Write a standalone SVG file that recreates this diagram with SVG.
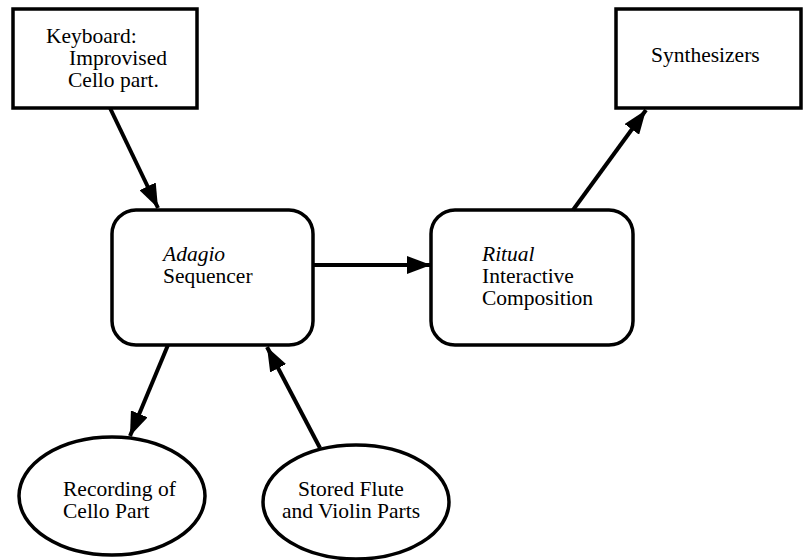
<svg xmlns="http://www.w3.org/2000/svg" width="807" height="560" viewBox="0 0 807 560">
<defs>
<style>
.box{fill:#fff;stroke:#000;stroke-width:3.5}
.t{font-family:'Liberation Serif','Tinos','DejaVu Serif',serif;font-size:21.5px;fill:#000}
.i{font-style:italic}
.c{fill:none;stroke:#000;stroke-width:4}
</style>
<marker id="ah" markerUnits="userSpaceOnUse" markerWidth="26" markerHeight="18" refX="24" refY="9" orient="auto">
<path d="M0,0 L24,9 L0,18 Z" fill="#000"/>
</marker>
</defs>
<rect width="807" height="560" fill="#fff"/>
<g id="keyboard">
<rect class="box" x="13" y="9" width="184" height="99"/>
<text class="t" x="46" y="43">Keyboard:</text>
<text class="t" x="69" y="65">Improvised</text>
<text class="t" x="68" y="87">Cello part.</text>
</g>
<g id="synthesizers">
<rect class="box" x="616" y="9" width="185" height="99"/>
<text class="t" x="651" y="62">Synthesizers</text>
</g>
<g id="adagio">
<rect class="box" x="112" y="210" width="201" height="135" rx="24" ry="24"/>
<text class="t i" x="163" y="261">Adagio</text>
<text class="t" x="163" y="283">Sequencer</text>
</g>
<g id="ritual">
<rect class="box" x="431" y="210" width="202" height="135" rx="24" ry="24"/>
<text class="t i" x="482" y="261">Ritual</text>
<text class="t" x="482" y="283">Interactive</text>
<text class="t" x="482" y="305">Composition</text>
</g>
<g id="recording">
<ellipse class="box" cx="112" cy="496" rx="93" ry="59"/>
<text class="t" x="63" y="496">Recording of</text>
<text class="t" x="63" y="518">Cello Part</text>
</g>
<g id="stored">
<ellipse class="box" cx="356" cy="502" rx="93" ry="57"/>
<text class="t" x="298" y="496">Stored Flute</text>
<text class="t" x="282" y="518">and Violin Parts</text>
</g>
<g id="connectors">
<line class="c" x1="110" y1="108" x2="158" y2="208" marker-end="url(#ah)"/>
<line class="c" x1="313" y1="265" x2="431" y2="265" marker-end="url(#ah)"/>
<line class="c" x1="573" y1="210" x2="646" y2="110" marker-end="url(#ah)"/>
<line class="c" x1="168" y1="345" x2="130" y2="436" marker-end="url(#ah)"/>
<line class="c" x1="320" y1="448" x2="267" y2="347" marker-end="url(#ah)"/>
</g>
</svg>
